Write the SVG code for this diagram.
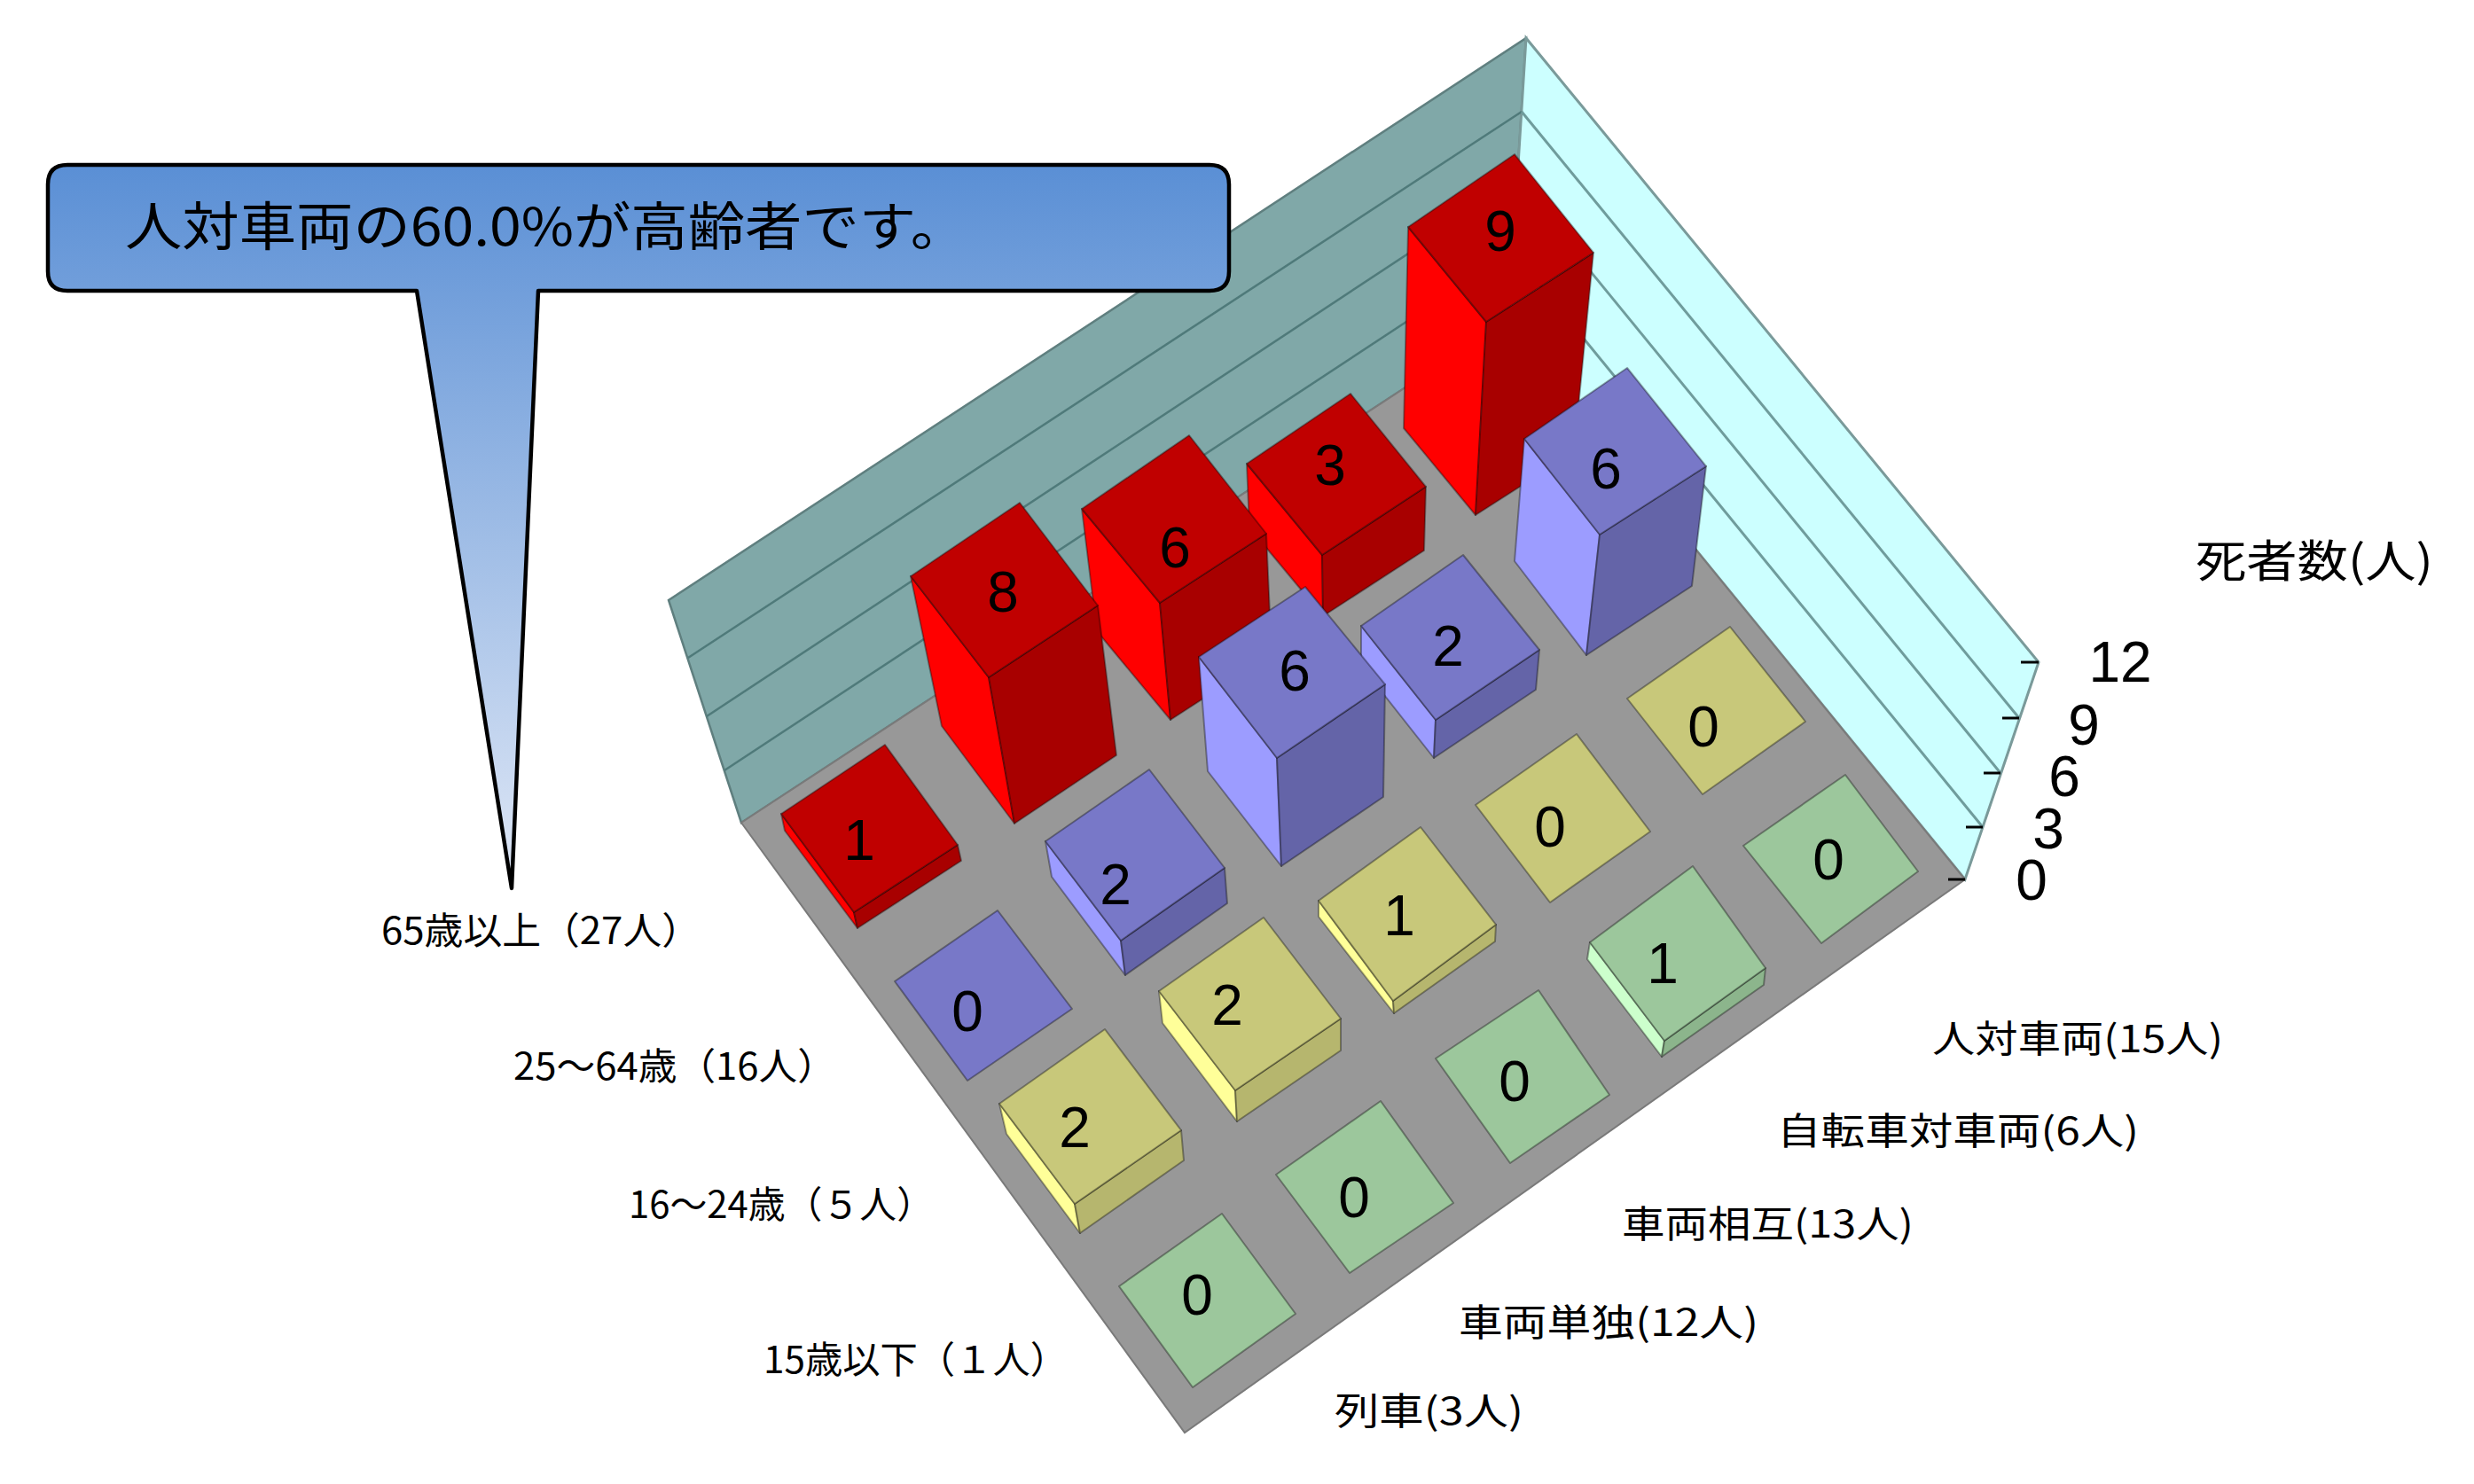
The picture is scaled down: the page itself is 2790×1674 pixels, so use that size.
<svg xmlns="http://www.w3.org/2000/svg" width="2790" height="1674" viewBox="0 0 2790 1674">
<defs>
<linearGradient id="cg" gradientUnits="userSpaceOnUse" x1="0" y1="186" x2="0" y2="1002">
<stop offset="0" stop-color="#5a8fd5"/>
<stop offset="1" stop-color="#e0e8f6"/>
</linearGradient>
</defs>
<style>
.f{stroke:#000;stroke-opacity:.35;stroke-width:2;stroke-linejoin:round}
.rt{fill:#c00000}.rl{fill:#ff0000}.rr{fill:#a80000}
.bt{fill:#7878c8}.bl{fill:#9c9cff}.br{fill:#6464a8}
.yt{fill:#c8c87a}.yl{fill:#ffff99}.yr{fill:#b6b66e}
.gt{fill:#9cc79c}.gl{fill:#ccffcc}.gr{fill:#8cb58c}
.v{font-family:"Liberation Sans",Arial,sans-serif;font-size:64px;text-anchor:middle;fill:#000}
.jp{font-family:"Noto Sans CJK JP","Noto Sans",sans-serif;font-size:42px;fill:#000}
.gb{stroke:#4f7a7a;stroke-width:2.5;fill:none}
.gw{stroke:#6f9c9c;stroke-width:3;fill:none}
.tk{stroke:#000;stroke-width:3}
</style>
<rect width="2790" height="1674" fill="#fff"/>
<g id="walls">
<polygon points="836,928 754,677 1721,43 1701,361" fill="#80a8a8" stroke="#5f7f7f" stroke-width="2.5"/>
<polygon points="1701,361 1721,43 2299,747 2216,992" fill="#ccffff" stroke="#7a9a9a" stroke-width="3"/>
<line class="gb" x1="817" y1="869" x2="1706" y2="284"/>
<line class="gb" x1="797" y1="808" x2="1711" y2="205"/>
<line class="gb" x1="776" y1="742" x2="1716" y2="126"/>
<line class="gw" x1="1706" y1="284" x2="2236" y2="933"/>
<line class="gw" x1="1711" y1="205" x2="2256" y2="872"/>
<line class="gw" x1="1716" y1="126" x2="2277" y2="810"/>
</g>
<g id="floor">
<polygon points="836,928 1336,1616 2216,992 1701,361" fill="#989898" stroke="#7a7a7a" stroke-width="2"/>
</g>
<g id="axis">
<line class="tk" x1="2279" y1="747" x2="2299" y2="747"/>
<line class="tk" x1="2258" y1="810" x2="2277" y2="810"/>
<line class="tk" x1="2237" y1="872" x2="2256" y2="872"/>
<line class="tk" x1="2217" y1="933" x2="2236" y2="933"/>
<line class="tk" x1="2197" y1="992" x2="2216" y2="992"/>
<text class="v" x="2391" y="769">12</text>
<text class="v" x="2350" y="840">9</text>
<text class="v" x="2328" y="898">6</text>
<text class="v" x="2310" y="957">3</text>
<text class="v" x="2291" y="1015">0</text>
<text class="jp" x="2476" y="651" style="font-size:50px" textLength="268" lengthAdjust="spacingAndGlyphs">死者数(人)</text>
</g>
<g id="bars">
<g id="bar-65-jinsha">
<polygon class="f rl" points="1588,256 1676,363 1664,581 1583,483"/>
<polygon class="f rr" points="1676,363 1797,285 1775,510 1664,581"/>
<polygon class="f rt" points="1588,256 1708,174 1797,285 1676,363"/>
<text class="v" x="1692" y="283">9</text>
</g>
<g id="bar-65-jitensha">
<polygon class="f rl" points="1406,523 1491,626 1492,695 1409,595"/>
<polygon class="f rr" points="1491,626 1608,549 1606,621 1492,695"/>
<polygon class="f rt" points="1406,523 1523,444 1608,549 1491,626"/>
<text class="v" x="1500" y="547">3</text>
</g>
<g id="bar-25-jinsha">
<polygon class="f bl" points="1719,495 1804,603 1789,739 1708,633"/>
<polygon class="f br" points="1804,603 1924,526 1908,661 1789,739"/>
<polygon class="f bt" points="1719,495 1835,415 1924,526 1804,603"/>
<text class="v" x="1811" y="551">6</text>
</g>
<g id="bar-65-sougo">
<polygon class="f rl" points="1220,574 1308,680 1320,812 1237,712"/>
<polygon class="f rr" points="1308,680 1428,602 1434,738 1320,812"/>
<polygon class="f rt" points="1220,574 1341,491 1428,602 1308,680"/>
<text class="v" x="1325" y="640">6</text>
</g>
<g id="bar-25-jitensha">
<polygon class="f bl" points="1535,706 1619,812 1617,855 1535,751"/>
<polygon class="f br" points="1619,812 1736,733 1732,778 1617,855"/>
<polygon class="f bt" points="1535,706 1650,626 1736,733 1619,812"/>
<text class="v" x="1633" y="751">2</text>
</g>
<g id="bar-16-jinsha">
<polygon class="f yt" points="1835,788 1951,707 2036,814 1920,896"/>
<text class="v" x="1921" y="842">0</text>
</g>
<g id="bar-65-tandoku">
<polygon class="f rl" points="1027,650 1115,764 1144,929 1062,819"/>
<polygon class="f rr" points="1115,764 1238,683 1259,852 1144,929"/>
<polygon class="f rt" points="1027,650 1150,567 1238,683 1115,764"/>
<text class="v" x="1131" y="690">8</text>
</g>
<g id="bar-25-sougo">
<polygon class="f bl" points="1352,741 1440,855 1445,977 1362,870"/>
<polygon class="f br" points="1440,855 1562,772 1560,899 1445,977"/>
<polygon class="f bt" points="1352,741 1472,662 1562,772 1440,855"/>
<text class="v" x="1460" y="779">6</text>
</g>
<g id="bar-16-jitensha">
<polygon class="f yt" points="1664,908 1778,828 1861,938 1748,1018"/>
<text class="v" x="1748" y="955">0</text>
</g>
<g id="bar-15-jinsha">
<polygon class="f gt" points="1966,954 2081,874 2163,983 2054,1064"/>
<text class="v" x="2062" y="992">0</text>
</g>
<g id="bar-65-ressha">
<polygon class="f rl" points="881,918 963,1029 967,1047 885,937"/>
<polygon class="f rr" points="963,1029 1080,953 1084,971 967,1047"/>
<polygon class="f rt" points="881,918 998,840 1080,953 963,1029"/>
<text class="v" x="969" y="970">1</text>
</g>
<g id="bar-25-tandoku">
<polygon class="f bl" points="1179,949 1264,1061 1269,1100 1186,989"/>
<polygon class="f br" points="1264,1061 1381,979 1384,1019 1269,1100"/>
<polygon class="f bt" points="1179,949 1296,868 1381,979 1264,1061"/>
<text class="v" x="1258" y="1020">2</text>
</g>
<g id="bar-16-sougo">
<polygon class="f yl" points="1487,1016 1571,1129 1572,1143 1487,1034"/>
<polygon class="f yr" points="1571,1129 1687,1043 1686,1062 1572,1143"/>
<polygon class="f yt" points="1487,1016 1602,933 1687,1043 1571,1129"/>
<text class="v" x="1578" y="1055">1</text>
</g>
<g id="bar-15-jitensha">
<polygon class="f gl" points="1793,1063 1877,1174 1874,1192 1790,1082"/>
<polygon class="f gr" points="1877,1174 1991,1092 1989,1111 1874,1192"/>
<polygon class="f gt" points="1793,1063 1909,977 1991,1092 1877,1174"/>
<text class="v" x="1875" y="1109">1</text>
</g>
<g id="bar-25-ressha">
<polygon class="f bt" points="1009,1107 1125,1027 1209,1138 1091,1219"/>
<text class="v" x="1091" y="1163">0</text>
</g>
<g id="bar-16-tandoku">
<polygon class="f yl" points="1307,1118 1393,1230 1395,1265 1311,1154"/>
<polygon class="f yr" points="1393,1230 1512,1149 1512,1185 1395,1265"/>
<polygon class="f yt" points="1307,1118 1425,1035 1512,1149 1393,1230"/>
<text class="v" x="1384" y="1156">2</text>
</g>
<g id="bar-15-sougo">
<polygon class="f gt" points="1619,1194 1735,1117 1815,1235 1703,1312"/>
<text class="v" x="1708" y="1242">0</text>
</g>
<g id="bar-16-ressha">
<polygon class="f yl" points="1127,1245 1212,1358 1218,1391 1135,1279"/>
<polygon class="f yr" points="1212,1358 1332,1275 1335,1309 1218,1391"/>
<polygon class="f yt" points="1127,1245 1246,1161 1332,1275 1212,1358"/>
<text class="v" x="1212" y="1294">2</text>
</g>
<g id="bar-15-tandoku">
<polygon class="f gt" points="1439,1325 1557,1242 1639,1357 1522,1436"/>
<text class="v" x="1527" y="1373">0</text>
</g>
<g id="bar-15-ressha">
<polygon class="f gt" points="1262,1451 1378,1369 1461,1482 1345,1565"/>
<text class="v" x="1350" y="1483">0</text>
</g>
</g>
<g id="series-labels">
<text class="jp" x="430" y="1065" textLength="360" lengthAdjust="spacingAndGlyphs">65歳以上（27人）</text>
<text class="jp" x="579" y="1218" textLength="364" lengthAdjust="spacingAndGlyphs">25～64歳（16人）</text>
<text class="jp" x="709" y="1374" textLength="344" lengthAdjust="spacingAndGlyphs">16～24歳（５人）</text>
<text class="jp" x="861" y="1549" textLength="343" lengthAdjust="spacingAndGlyphs">15歳以下（１人）</text>
</g>
<g id="category-labels">
<text class="jp" x="2179" y="1187" textLength="328" lengthAdjust="spacingAndGlyphs">人対車両(15人)</text>
<text class="jp" x="2004" y="1291" textLength="408" lengthAdjust="spacingAndGlyphs">自転車対車両(6人)</text>
<text class="jp" x="1829" y="1396" textLength="329" lengthAdjust="spacingAndGlyphs">車両相互(13人)</text>
<text class="jp" x="1645" y="1507" textLength="338" lengthAdjust="spacingAndGlyphs">車両単独(12人)</text>
<text class="jp" x="1505" y="1607" textLength="213" lengthAdjust="spacingAndGlyphs">列車(3人)</text>
</g>
<g id="callout">
<path d="M76,186 H1364 Q1386,186 1386,208 V306 Q1386,328 1364,328 H607 L577,1002 L470,328 H76 Q54,328 54,306 V208 Q54,186 76,186 Z" fill="url(#cg)" stroke="#000" stroke-width="4.5" stroke-linejoin="round"/>
<text class="jp" x="141" y="277" style="font-size:59px" textLength="950" lengthAdjust="spacingAndGlyphs">人対車両の60.0%が高齢者です。</text>
</g>
<g id="connectors"/>
</svg>
